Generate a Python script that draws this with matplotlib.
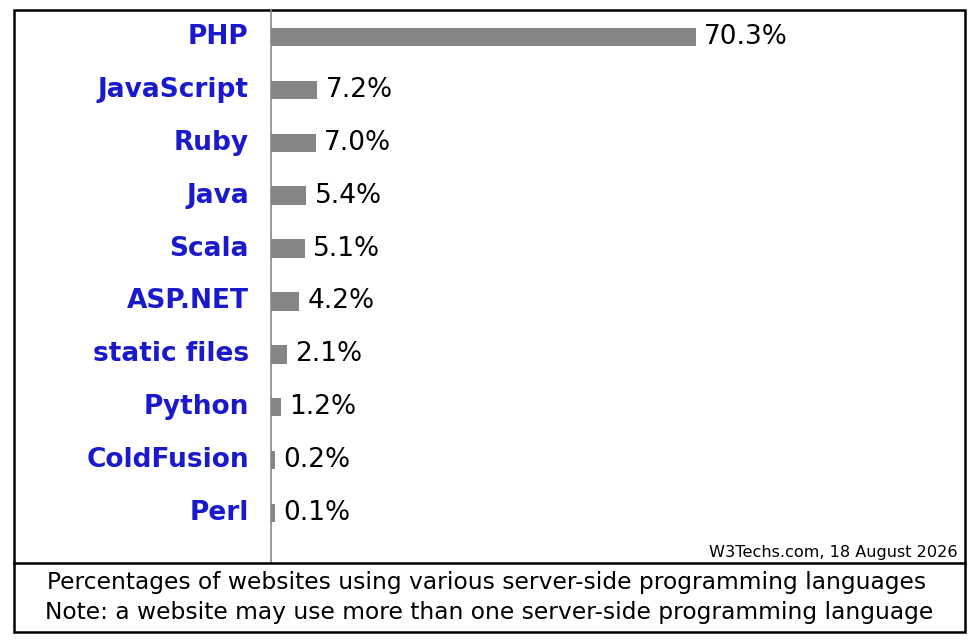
import matplotlib
matplotlib.use('Agg')
import matplotlib.pyplot as plt
from matplotlib.patches import Rectangle
from matplotlib.lines import Line2D

languages = ['PHP', 'JavaScript', 'Ruby', 'Java', 'Scala', 'ASP.NET',
             'static files', 'Python', 'ColdFusion', 'Perl']
shares = [70.3, 7.2, 7.0, 5.4, 5.1, 4.2, 2.1, 1.2, 0.2, 0.1]
value_labels = ['70.3%', '7.2%', '7.0%', '5.4%', '5.1%', '4.2%', '2.1%', '1.2%', '0.2%', '0.1%']

W, H = 972, 640
fig = plt.figure(figsize=(W / 100, H / 100), dpi=100)
fig.patch.set_facecolor('white')

def fx(px):
    return px / W

def fy(py):
    return 1 - py / H

# chart area (pixel coordinates of reference)
left, right, top, bottom = 271, 965, 10, 563
ax = fig.add_axes([fx(left), fy(bottom), fx(right - left), (bottom - top) / H])
ax.set_facecolor('none')

stub = 0.5  # small bar stub so tiny values stay visible
ypos = list(range(len(languages)))
ax.barh(ypos, [v + stub for v in shares], left=-stub, height=0.35,
        color='#858585', edgecolor='none')
ax.set_xlim(-stub, (right - left) / 6.0 - stub)
ax.set_ylim(9.945, -0.51)

for y, v, lab in zip(ypos, shares, value_labels):
    ax.annotate(lab, (v, y), xytext=(6, 0), textcoords='offset points',
                va='center', ha='left', fontsize=19, color='black')
    ax.annotate(languages[y], (-stub, y), xytext=(-16, 0), textcoords='offset points',
                va='center', ha='right', fontsize=19, fontweight='bold',
                color='#1a1acc', annotation_clip=False)

for s in ax.spines.values():
    s.set_visible(False)
ax.set_xticks([])
ax.set_yticks([])

# vertical axis line
fig.add_artist(Line2D([fx(left), fx(left)], [fy(top), fy(bottom)],
                      color='#888888', lw=1.2))

# outer frame and divider
fig.add_artist(Rectangle((fx(14), fy(632)), fx(965 - 14), (632 - 10) / H,
                         fill=False, edgecolor='black', lw=1.8))
fig.add_artist(Line2D([fx(14), fx(965)], [fy(563), fy(563)], color='black', lw=1.8))

fig.text(fx(958), fy(552), 'W3Techs.com, 18 August 2026', ha='right', va='center',
         fontsize=11.6, color='black')
fig.text(fx(487), fy(582), 'Percentages of websites using various server-side programming languages',
         ha='center', va='center', fontsize=16.8)
fig.text(fx(489), fy(612), 'Note: a website may use more than one server-side programming language',
         ha='center', va='center', fontsize=16.8)

fig.savefig('out.png', dpi=100)
